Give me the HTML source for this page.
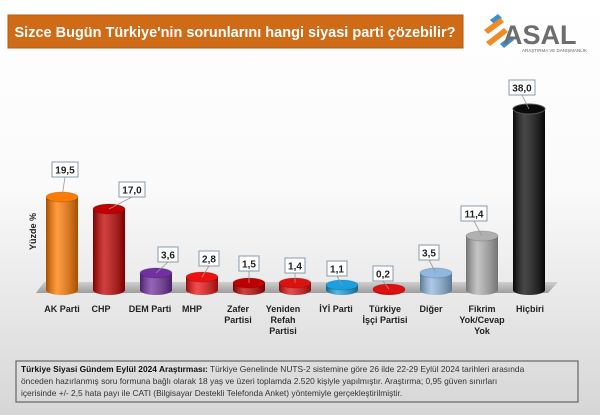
<!DOCTYPE html>
<html><head><meta charset="utf-8"><style>
body{margin:0;width:600px;height:415px;overflow:hidden;font-family:"Liberation Sans",sans-serif}
</style></head><body>
<svg width="600" height="415" xmlns="http://www.w3.org/2000/svg" font-family="Liberation Sans, DejaVu Sans, sans-serif">
<defs>
<linearGradient id="bg" x1="0" y1="0" x2="0" y2="1"><stop offset="0" stop-color="#ffffff"/><stop offset="0.45" stop-color="#fafafa"/><stop offset="1" stop-color="#d6d6d6"/></linearGradient>
<linearGradient id="sh" x1="0" x2="1"><stop offset="0" stop-color="#000" stop-opacity="0.35"/><stop offset="0.35" stop-color="#fff" stop-opacity="0.25"/><stop offset="1" stop-color="#000" stop-opacity="0.35"/></linearGradient>
<linearGradient id="fl" x1="0" y1="0" x2="0" y2="1"><stop offset="0" stop-color="#c8c8c8"/><stop offset="1" stop-color="#8a8a8a"/></linearGradient>
</defs>
<rect width="600" height="415" fill="url(#bg)"/>
<rect x="8" y="15" width="455" height="33" fill="#cf6a17" stroke="#b85a10"/>
<text x="235" y="37" fill="#fff" font-size="14.5" font-weight="bold" text-anchor="middle">Sizce Bugün Türkiye'nin sorunlarını hangi siyasi parti çözebilir?</text>
<g>
<path d="M490 20 l8 -6 l4 4 l-8 6z" fill="#3a8fd0"/><path d="M484 30 l16 -12 l4 4 l-16 12z" fill="#f08a24"/>
<path d="M486 42 l18 -14 l4 4 l-18 14z" fill="#f08a24"/><path d="M500 44 l10 -8 l4 4 l-10 8z" fill="#3a8fd0"/>
<text x="503" y="44" font-size="27" font-weight="bold" fill="#6d6d6d">ASAL</text>
<text x="522" y="52" font-size="4.5" fill="#666">ARAŞTIRMA VE DANIŞMANLIK</text>
</g>
<path d="M44 282 L558 282 L548 293 L36 293 Z" fill="url(#fl)" opacity="0.8"/>
<text transform="translate(36,250) rotate(-90)" font-size="9" font-weight="bold" fill="#222">Yüzde %</text>

<g transform="translate(62,0)"><path d="M-16 197 L-16 290 A16 5 0 0 0 16 290 L16 197 Z" fill="#ff7a00"/><path d="M-16 197 L-16 290 A16 5 0 0 0 16 290 L16 197 Z" fill="url(#sh)"/><ellipse cx="0" cy="197" rx="16" ry="5" fill="#ff7a00" stroke="#000" stroke-opacity="0.15"/></g>
<g transform="translate(109,0)"><path d="M-16 209 L-16 290 A16 5 0 0 0 16 290 L16 209 Z" fill="#c00000"/><path d="M-16 209 L-16 290 A16 5 0 0 0 16 290 L16 209 Z" fill="url(#sh)"/><ellipse cx="0" cy="209" rx="16" ry="5" fill="#c00000" stroke="#000" stroke-opacity="0.15"/></g>
<g transform="translate(156,0)"><path d="M-16 273 L-16 290 A16 5 0 0 0 16 290 L16 273 Z" fill="#7030a0"/><path d="M-16 273 L-16 290 A16 5 0 0 0 16 290 L16 273 Z" fill="url(#sh)"/><ellipse cx="0" cy="273" rx="16" ry="5" fill="#7030a0" stroke="#000" stroke-opacity="0.15"/></g>
<g transform="translate(202,0)"><path d="M-16 277 L-16 290 A16 5 0 0 0 16 290 L16 277 Z" fill="#ee1111"/><path d="M-16 277 L-16 290 A16 5 0 0 0 16 290 L16 277 Z" fill="url(#sh)"/><ellipse cx="0" cy="277" rx="16" ry="5" fill="#ee1111" stroke="#000" stroke-opacity="0.15"/></g>
<g transform="translate(249,0)"><path d="M-16 283 L-16 290 A16 5 0 0 0 16 290 L16 283 Z" fill="#c00000"/><path d="M-16 283 L-16 290 A16 5 0 0 0 16 290 L16 283 Z" fill="url(#sh)"/><ellipse cx="0" cy="283" rx="16" ry="5" fill="#c00000" stroke="#000" stroke-opacity="0.15"/></g>
<g transform="translate(295,0)"><path d="M-16 283 L-16 290 A16 5 0 0 0 16 290 L16 283 Z" fill="#dd1111"/><path d="M-16 283 L-16 290 A16 5 0 0 0 16 290 L16 283 Z" fill="url(#sh)"/><ellipse cx="0" cy="283" rx="16" ry="5" fill="#dd1111" stroke="#000" stroke-opacity="0.15"/></g>
<g transform="translate(342,0)"><path d="M-16 285 L-16 290 A16 5 0 0 0 16 290 L16 285 Z" fill="#1ba0dd"/><path d="M-16 285 L-16 290 A16 5 0 0 0 16 290 L16 285 Z" fill="url(#sh)"/><ellipse cx="0" cy="285" rx="16" ry="5" fill="#1ba0dd" stroke="#000" stroke-opacity="0.15"/></g>
<g transform="translate(389,0)"><path d="M-16 289 L-16 290 A16 5 0 0 0 16 290 L16 289 Z" fill="#dd1111"/><ellipse cx="0" cy="289" rx="16" ry="5" fill="#dd1111" stroke="#000" stroke-opacity="0.15"/></g>
<g transform="translate(436,0)"><path d="M-16 273 L-16 290 A16 5 0 0 0 16 290 L16 273 Z" fill="#8fb8e0"/><path d="M-16 273 L-16 290 A16 5 0 0 0 16 290 L16 273 Z" fill="url(#sh)"/><ellipse cx="0" cy="273" rx="16" ry="5" fill="#8fb8e0" stroke="#000" stroke-opacity="0.15"/></g>
<g transform="translate(482,0)"><path d="M-16 236 L-16 290 A16 5 0 0 0 16 290 L16 236 Z" fill="#b0b0b0"/><path d="M-16 236 L-16 290 A16 5 0 0 0 16 290 L16 236 Z" fill="url(#sh)"/><ellipse cx="0" cy="236" rx="16" ry="5" fill="#b0b0b0" stroke="#000" stroke-opacity="0.15"/></g>
<g transform="translate(529,0)"><path d="M-16 109 L-16 290 A16 5 0 0 0 16 290 L16 109 Z" fill="#0a0a0a"/><path d="M-16 109 L-16 290 A16 5 0 0 0 16 290 L16 109 Z" fill="url(#sh)"/><ellipse cx="0" cy="109" rx="16" ry="5" fill="#0a0a0a" stroke="#555"/></g>

<g stroke="#999" stroke-width="0.8">
<line x1="62" y1="197" x2="65" y2="177"/><line x1="109" y1="209" x2="132" y2="197"/>
<line x1="156" y1="273" x2="168" y2="262"/><line x1="202" y1="277" x2="209" y2="266"/>
<line x1="249" y1="283" x2="249" y2="271"/><line x1="295" y1="283" x2="295" y2="273"/>
<line x1="342" y1="285" x2="337" y2="276"/><line x1="389" y1="289" x2="383" y2="281"/>
<line x1="436" y1="273" x2="429" y2="260"/><line x1="482" y1="236" x2="474" y2="221"/>
<line x1="529" y1="109" x2="522" y2="95"/>
</g>
<g fill="#fff" stroke="#8a9aa8">
<rect x="52" y="162" width="26" height="15"/><rect x="119" y="182" width="26" height="15"/>
<rect x="158" y="247" width="20" height="15"/><rect x="199" y="251" width="20" height="15"/>
<rect x="239" y="256" width="20" height="15"/><rect x="285" y="258" width="20" height="15"/>
<rect x="327" y="261" width="20" height="15"/><rect x="373" y="266" width="20" height="15"/>
<rect x="419" y="245" width="20" height="15"/><rect x="461" y="206" width="26" height="15"/>
<rect x="509" y="80" width="26" height="15"/>
</g>
<g font-size="10" font-weight="bold" fill="#222" text-anchor="middle">
<text x="65" y="173.5">19,5</text><text x="132" y="193.5">17,0</text>
<text x="168" y="258.5">3,6</text><text x="209" y="262.5">2,8</text>
<text x="249" y="267.5">1,5</text><text x="295" y="269.5">1,4</text>
<text x="337" y="272.5">1,1</text><text x="383" y="277.5">0,2</text>
<text x="429" y="256.5">3,5</text><text x="474" y="217.5">11,4</text>
<text x="522" y="91.5">38,0</text>
</g>

<g font-size="9" font-weight="bold" fill="#222" text-anchor="middle">
<text x="62" y="312">AK Parti</text>
<text x="101" y="312">CHP</text>
<text x="150" y="312">DEM Parti</text>
<text x="192" y="312">MHP</text>
<text x="238" y="312">Zafer</text><text x="238" y="323">Partisi</text>
<text x="283" y="312">Yeniden</text><text x="283" y="323">Refah</text><text x="283" y="334">Partisi</text>
<text x="336" y="312">İYİ Parti</text>
<text x="385" y="312">Türkiye</text><text x="385" y="323">İşçi Partisi</text>
<text x="431" y="312">Diğer</text>
<text x="482" y="312">Fikrim</text><text x="482" y="323">Yok/Cevap</text><text x="482" y="334">Yok</text>
<text x="530" y="312">Hiçbiri</text>
</g>
<rect x="16" y="361" width="562" height="41" fill="none" stroke="#666" stroke-width="1.2"/>
<g font-size="8.4" fill="#333">
<text x="21" y="372"><tspan font-weight="bold" fill="#111">Türkiye Siyasi Gündem Eylül 2024 Araştırması:</tspan> Türkiye Genelinde  NUTS-2 sistemine göre 26 ilde 22-29 Eylül 2024 tarihleri arasında</text>
<text x="21" y="384">önceden  hazırlanmış soru formuna bağlı olarak 18 yaş ve üzeri toplamda 2.520 kişiyle yapılmıştır. Araştırma; 0,95 güven sınırları</text>
<text x="21" y="396">içerisinde +/- 2,5 hata payı ile CATI (Bilgisayar Destekli Telefonda  Anket) yöntemiyle gerçekleştirilmiştir.</text>
</g>
</svg>
</body></html>
